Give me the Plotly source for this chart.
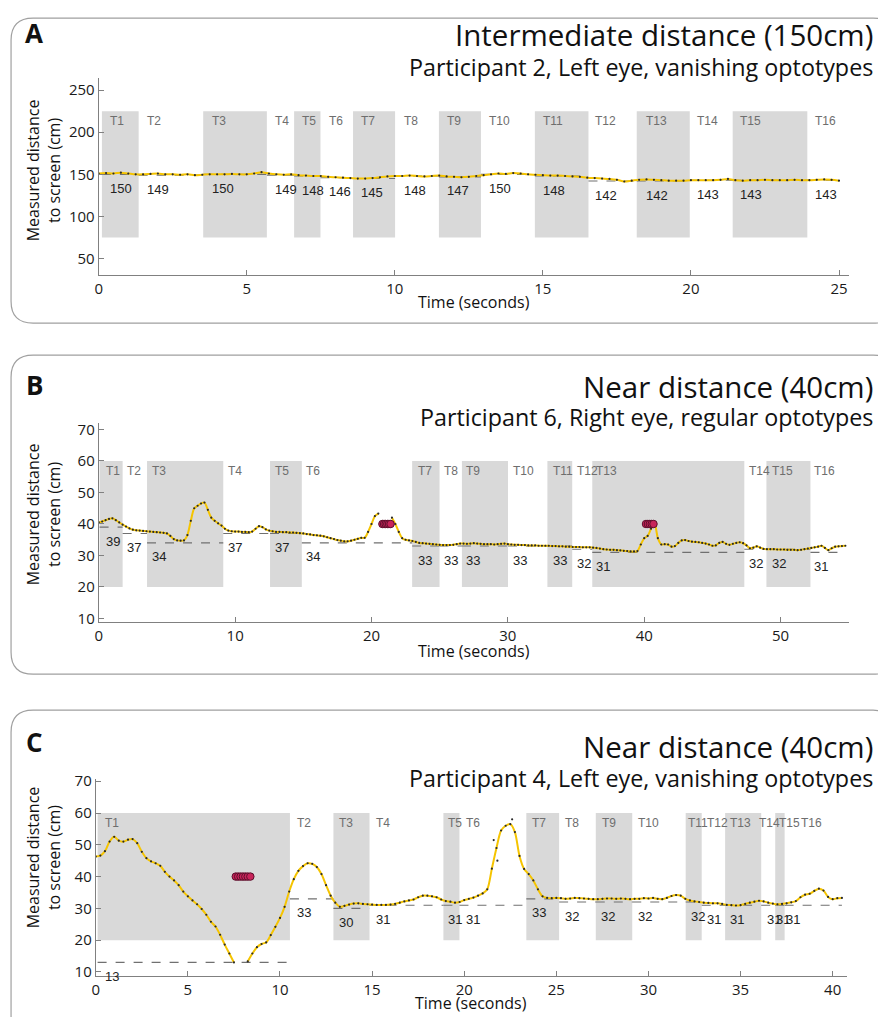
import plotly.graph_objects as go

# page is 886x1025; the browser body keeps its default 8px margin,
# so the figure is 870x1009 placed at (8, 8)
OX, OY = 8, 8
FW, FH = 870, 1009
# calibration of page pixels vs photographed pixels (measured on a previous render)
CX0, CXS = 4.0, 0.993
CY0, CYS = 9.0, 0.985

# ---------------- DATA ----------------
# sample period of the measurement series (seconds)
DT = 0.25

# Panel A: Intermediate distance (150cm)
a_values = [
    151, 151.5, 151, 152, 151, 150, 150, 150.5,
    151, 150, 150, 149.5, 150, 149, 149.5, 150,
    150, 150, 150.5, 150, 150, 151, 152.5, 151,
    150, 149.5, 150, 149, 148.5, 148, 148, 147,
    146.5, 146, 145.5, 145, 145, 145.5, 146.5, 147.5,
    148, 148, 148.5, 148, 147.5, 148, 148.5, 147.5,
    147, 146.5, 147, 148, 149, 150, 151, 150.5,
    151.5, 151, 150, 149.5, 149, 148.5, 148.5, 148,
    147.5, 147, 146, 145.5, 145, 144.5, 143.5, 141.5,
    142.5, 143.5, 144, 143.5, 143, 142.5, 142.5, 142.5,
    143, 143, 143, 143, 143.5, 144.5, 143, 142.5,
    143, 143, 143.5, 143, 143, 143, 143.5, 143,
    143, 143.5, 144, 143.5, 142.5,
]
a_bounds = [0.11, 1.35, 3.53, 5.68, 6.60, 7.49, 8.59, 10.01, 11.49, 12.91,
            14.73, 16.54, 18.17, 19.96, 21.41, 23.93, 25.05]
a_medians = [150, 149, 150, 149, 148, 146, 145, 148, 147, 150, 148, 142, 142, 143, 143, 143]
a_label_x = [0.30, 1.58, 3.76, 5.90, 6.80, 7.70, 8.78, 10.25, 11.68, 13.13,
             14.95, 16.70, 18.40, 20.15, 21.60, 24.12]
a_shade = [75, 225]

# Panel B: Near distance (40cm), participant 6
b_values = [
    40.5, 40.8, 41.2, 41.6, 41.8, 41.2, 40.5, 39.8,
    39.2, 38.6, 38.2, 38.0, 37.9, 37.8, 37.7, 37.6,
    37.5, 37.4, 37.3, 37.2, 37.0, 36.2, 35.2, 34.8,
    34.7, 34.8, 36.5, 41.0, 45.0, 45.8, 46.5, 46.8,
    44.5, 42.0, 41.0, 40.2, 39.5, 38.5, 37.9, 37.7,
    37.6, 37.6, 37.5, 37.5, 37.4, 37.6, 38.5, 39.3,
    39.0, 38.3, 37.9, 37.7, 37.5, 37.5, 37.4, 37.4,
    37.3, 37.3, 37.2, 37.1, 37.0, 36.8, 36.7, 36.5,
    36.4, 36.3, 36.1, 35.8, 35.5, 35.2, 34.9, 34.7,
    34.5, 34.5, 34.7, 35.0, 35.3, 35.6, 35.6, 37.5,
    40.0, 42.5, 43.3, None, None, None, 42.0, 40.0,
    37.5, 35.5, 35.0, 34.8, 34.6, 34.3, 34.0, 33.9,
    33.8, 33.7, 33.6, 33.5, 33.4, 33.3, 33.3, 33.3,
    33.4, 33.6, 33.8, 33.8, 33.7, 33.8, 33.9, 33.8,
    33.7, 33.6, 33.6, 33.6, 33.5, 33.6, 33.7, 33.8,
    33.6, 33.5, 33.4, 33.4, 33.3, 33.3, 33.2, 33.2,
    33.2, 33.1, 33.1, 33.1, 33.1, 33.0, 33.0, 32.9,
    32.9, 32.8, 32.8, 32.7, 32.7, 32.7, 32.6, 32.6,
    32.6, 32.5, 32.4, 32.2, 32.0, 31.9, 31.8, 31.8,
    31.7, 31.6, 31.5, 31.4, 31.3, 31.3, 31.4, 33.5,
    35.5, 36.2, 38.5, 40.3, 35.5, 33.5, 33.6, 33.5,
    32.8, 33.0, 34.0, 34.8, 34.9, 34.6, 34.4, 34.3,
    34.2, 34.0, 33.8, 33.5, 33.1, 33.2, 34.0, 34.3,
    33.7, 33.4, 33.7, 34.0, 34.2, 33.9, 33.2, 32.3,
    32.5, 32.9, 32.5, 32.1, 32.0, 32.0, 32.0, 31.9,
    31.9, 31.9, 31.8, 31.8, 31.8, 31.7, 31.8, 32.0,
    32.2, 32.4, 32.6, 32.8, 33.1, 32.4, 31.7, 32.3,
    32.8, 32.9, 33.0, 33.1,
]
b_bounds = [0.06, 1.75, 3.54, 9.13, 12.56, 14.89, 22.98, 24.99, 26.63, 30.01,
            32.90, 34.72, 36.19, 47.34, 48.96, 52.19, 54.75]
b_medians = [39, 37, 34, 37, 37, 34, 33, 33, 33, 33, 33, 32, 31, 32, 32, 31]
b_label_x = [0.35, 1.95, 3.79, 9.30, 12.80, 15.06, 23.27, 25.20, 26.82, 30.26,
             33.15, 34.90, 36.34, 47.50, 49.25, 52.30]
b_shade = [20, 60]
b_missing_t = [20.80, 20.92, 21.04, 21.16, 21.28, 21.40, 40.13, 40.27, 40.41, 40.55, 40.68]
b_missing_v = [40, 40, 40, 40, 40, 40, 40, 40, 40, 40, 40]

# Panel C: Near distance (40cm), participant 4
c_values = [
    46.3, 46.6, 48.0, 51.0, 52.5, 51.3, 51.0, 51.6,
    51.8, 50.5, 47.8, 45.8, 44.8, 44.2, 43.4, 41.5,
    40.0, 38.8, 37.3, 35.3, 33.8, 32.5, 31.3, 29.8,
    28.0, 25.8, 24.3, 21.7, 18.6, 15.8, 13.0, None,
    None, 13.3, 15.8, 17.8, 18.8, 19.3, 21.6, 24.2,
    27.0, 30.5, 35.3, 39.2, 41.8, 43.3, 44.2, 44.0,
    43.0, 40.8, 37.3, 34.0, 31.8, 30.5, 30.8, 31.2,
    31.5, 31.6, 31.4, 31.3, 31.2, 31.1, 31.1, 31.1,
    31.2, 31.4, 31.8, 32.2, 32.5, 32.8, 33.5, 34.0,
    34.0, 33.8, 33.5, 32.8, 32.3, 32.1, 31.8, 32.0,
    32.6, 33.0, 33.4, 34.0, 34.7, 36.0, 42.5, 49.0,
    54.5, 56.0, 56.5, 54.0, 46.5, 42.4, 40.8, 38.8,
    36.0, 33.8, 33.3, 33.2, 33.3, 33.2, 33.0, 33.1,
    33.3, 33.2, 33.1, 33.0, 32.9, 32.9, 33.0, 33.1,
    33.1, 33.0, 33.1, 33.0, 32.9, 33.0, 33.0, 33.2,
    33.1, 33.3, 33.0, 32.9, 33.3, 33.9, 34.2, 34.0,
    33.0, 32.5, 32.2, 32.0, 31.8, 31.7, 31.6, 31.6,
    31.4, 31.1, 31.0, 30.9, 31.0, 31.4, 31.8, 32.1,
    32.4, 32.2, 31.8, 31.5, 31.3, 31.4, 31.6, 31.9,
    32.3, 33.5, 34.3, 34.6, 35.5, 36.2, 35.6, 33.6,
    32.9, 33.2, 33.3,
]
c_extra_t = [21.60, 21.80, 22.60]
c_extra_v = [51.5, 45.0, 58.0]
c_bounds = [0.10, 10.54, 12.90, 14.86, 18.87, 19.74, 23.37, 25.15, 27.14, 29.12,
            32.02, 32.89, 34.16, 36.12, 36.88, 37.39, 40.50]
c_medians = [13, 33, 30, 31, 31, 31, 33, 32, 32, 32, 32, 31, 31, 31, 31, 31]
c_label_x = [0.37, 10.80, 13.12, 15.11, 19.02, 19.98, 23.59, 25.36, 27.36, 29.35,
             32.02, 33.07, 34.34, 35.88, 36.97, 38.18]
c_num_x = [0.41, 10.80, 13.12, 15.08, 19.02, 19.98, 23.55, 25.36, 27.32, 29.31,
           32.20, 33.07, 34.34, 36.33, 36.84, 37.33]
c_shade = [20, 60]
c_missing_t = [7.60, 7.73, 7.86, 7.99, 8.12, 8.25, 8.39]
c_missing_v = [40, 40, 40, 40, 40, 40, 40]

trial_names = ["T%d" % i for i in range(1, 17)]

titles = ["Intermediate distance (150cm)", "Near distance (40cm)", "Near distance (40cm)"]
subtitles = ["Participant 2, Left eye, vanishing optotypes",
             "Participant 6, Right eye, regular optotypes",
             "Participant 4, Left eye, vanishing optotypes"]
letters = ["A", "B", "C"]

# ---------------- GEOMETRY (target pixels) ----------------
def X(px):
    page = (px - CX0) / CXS
    return (page - OX) / FW

def Y(py):
    page = (py - CY0) / CYS
    return 1 - (page - OY) / FH

panels = [
    dict(vals=a_values, bounds=a_bounds, med=a_medians, lx=a_label_x, nx=a_label_x,
         shade=a_shade, miss_t=[], miss_v=[], extra_t=[], extra_v=[],
         xpx=(98.4, 846.7), ypx=(78, 275), xr=[0, 25.33], yr=[30.2, 264.3],
         xt=[0, 5, 10, 15, 20, 25], yt=[50, 100, 150, 200, 250],
         box=(11, 18, 893, 323), letter_y=33, title_y=34, sub_y=67, ytitle_y=170, xtitle_y=302),
    dict(vals=b_values, bounds=b_bounds, med=b_medians, lx=b_label_x, nx=b_label_x,
         shade=b_shade, miss_t=b_missing_t, miss_v=b_missing_v, extra_t=[], extra_v=[],
         xpx=(98.5, 846.7), ypx=(422.7, 621.7), xr=[0, 55.0], yr=[8.92, 72.1],
         xt=[0, 10, 20, 30, 40, 50], yt=[10, 20, 30, 40, 50, 60, 70],
         box=(11, 355, 893, 674), letter_y=385, title_y=386, sub_y=417, ytitle_y=514, xtitle_y=651),
    dict(vals=c_values, bounds=c_bounds, med=c_medians, lx=c_label_x, nx=c_num_x,
         shade=c_shade, miss_t=c_missing_t, miss_v=c_missing_v, extra_t=c_extra_t, extra_v=c_extra_v,
         xpx=(95.5, 845), ypx=(779, 976), xr=[0, 40.78], yr=[8.65, 70.63],
         xt=[0, 5, 10, 15, 20, 25, 30, 35, 40], yt=[10, 20, 30, 40, 50, 60, 70],
         box=(11, 710, 893, 1045), letter_y=742, title_y=746, sub_y=778, ytitle_y=857, xtitle_y=1003),
]

YELLOW = "#f5c400"
GREY_AX = "#808080"
SHADE = "#d9d9d9"
LABEL_FONT = "Liberation Sans, Arial, sans-serif"
MAIN_FONT = "Open Sans, sans-serif"
TITLE_RIGHT = 873

fig = go.Figure()
shapes = []
annotations = []

def rounded_path(x0, y0, x1, y1, r):
    return (f"M {X(x0+r)},{Y(y0)} L {X(x1-r)},{Y(y0)} Q {X(x1)},{Y(y0)} {X(x1)},{Y(y0+r)} "
            f"L {X(x1)},{Y(y1-r)} Q {X(x1)},{Y(y1)} {X(x1-r)},{Y(y1)} "
            f"L {X(x0+r)},{Y(y1)} Q {X(x0)},{Y(y1)} {X(x0)},{Y(y1-r)} "
            f"L {X(x0)},{Y(y0+r)} Q {X(x0)},{Y(y0)} {X(x0+r)},{Y(y0)} Z")

def note(**kw):
    base = dict(showarrow=False, xanchor="center", yanchor="middle")
    base.update(kw)
    annotations.append(base)

for i, p in enumerate(panels):
    n = "" if i == 0 else str(i + 1)
    xa, ya = "x" + n, "y" + n
    bx0, by0, bx1, by1 = p["box"]
    shapes.append(dict(type="path", xref="paper", yref="paper",
                       path=rounded_path(bx0, by0, bx1, by1, 22),
                       line=dict(color="#a0a0a0", width=1.2), fillcolor="rgba(0,0,0,0)", layer="below"))
    b = p["bounds"]
    for k in range(0, 16, 2):
        shapes.append(dict(type="rect", xref=xa, yref=ya, x0=b[k], x1=b[k + 1],
                           y0=p["shade"][0], y1=p["shade"][1],
                           fillcolor=SHADE, line=dict(width=0), layer="below"))
    dx, dy = [], []
    for k in range(16):
        dx += [b[k], b[k + 1], None]
        dy += [p["med"][k], p["med"][k], None]
    fig.add_trace(go.Scatter(x=dx, y=dy, mode="lines", xaxis=xa, yaxis=ya,
                             line=dict(color="#707070", width=1.1, dash="dash"),
                             hoverinfo="skip"))
    t = [j * DT for j in range(len(p["vals"]))]
    fig.add_trace(go.Scatter(x=t, y=p["vals"], mode="lines", xaxis=xa, yaxis=ya,
                             line=dict(color=YELLOW, width=2, shape="spline", smoothing=0.8),
                             connectgaps=False))
    fig.add_trace(go.Scatter(x=t + p["extra_t"], y=p["vals"] + p["extra_v"], mode="markers",
                             xaxis=xa, yaxis=ya,
                             marker=dict(color="#2a2a2a", size=2.2)))
    if p["miss_t"]:
        fig.add_trace(go.Scatter(x=p["miss_t"], y=p["miss_v"], mode="markers", xaxis=xa, yaxis=ya,
                                 marker=dict(color="#c8245a", size=7.5,
                                             line=dict(color="#5c0f2c", width=1))))
    for k in range(16):
        note(xref=xa, yref=ya, x=p["lx"][k], y=p["shade"][1], text=trial_names[k],
             xanchor="left", yanchor="top", yshift=-1,
             font=dict(family=LABEL_FONT, size=12, color="#6e6e6e"))
        note(xref=xa, yref=ya, x=p["nx"][k], y=p["med"][k], text=str(p["med"][k]),
             xanchor="left", yanchor="middle", yshift=-14,
             font=dict(family=LABEL_FONT, size=13, color="#222222"))
    dom_x = [X(p["xpx"][0]), X(p["xpx"][1])]
    dom_y = [Y(p["ypx"][1]), Y(p["ypx"][0])]
    common = dict(showgrid=False, zeroline=False, showline=True, linecolor=GREY_AX, linewidth=1,
                  ticks="inside", ticklen=5, tickcolor=GREY_AX,
                  tickfont=dict(family=MAIN_FONT, size=15, color="#1a1a1a"))
    fig.layout["xaxis" + n] = dict(domain=dom_x, range=p["xr"], tickvals=p["xt"], anchor=ya, **common)
    fig.layout["yaxis" + n] = dict(domain=dom_y, range=p["yr"], tickvals=p["yt"], anchor=xa, **common)
    note(xref="paper", yref="paper", x=X(34), y=Y(p["letter_y"]), text="<b>%s</b>" % letters[i],
         font=dict(family=MAIN_FONT, size=26, color="#111111"))
    note(xref="paper", yref="paper", x=X(TITLE_RIGHT), y=Y(p["title_y"]), text=titles[i],
         xanchor="right", font=dict(family=MAIN_FONT, size=29.5, color="#111111"))
    note(xref="paper", yref="paper", x=X(TITLE_RIGHT), y=Y(p["sub_y"]), text=subtitles[i],
         xanchor="right", font=dict(family=MAIN_FONT, size=23.3, color="#111111"))
    note(xref="paper", yref="paper", x=X(43), y=Y(p["ytitle_y"]),
         text="Measured distance<br>to screen (cm)", textangle=-90,
         font=dict(family=MAIN_FONT, size=16, color="#111111"))
    note(xref="paper", yref="paper", x=(dom_x[0] + dom_x[1]) / 2, y=Y(p["xtitle_y"]),
         text="Time (seconds)", font=dict(family=MAIN_FONT, size=16, color="#111111"))

fig.update_layout(width=FW, height=FH, margin=dict(l=0, r=0, t=0, b=0), autosize=False,
                  showlegend=False, plot_bgcolor="white", paper_bgcolor="white",
                  shapes=shapes, annotations=annotations, hovermode=False)

fig.write_html("out.html", config={"displayModeBar": False})
